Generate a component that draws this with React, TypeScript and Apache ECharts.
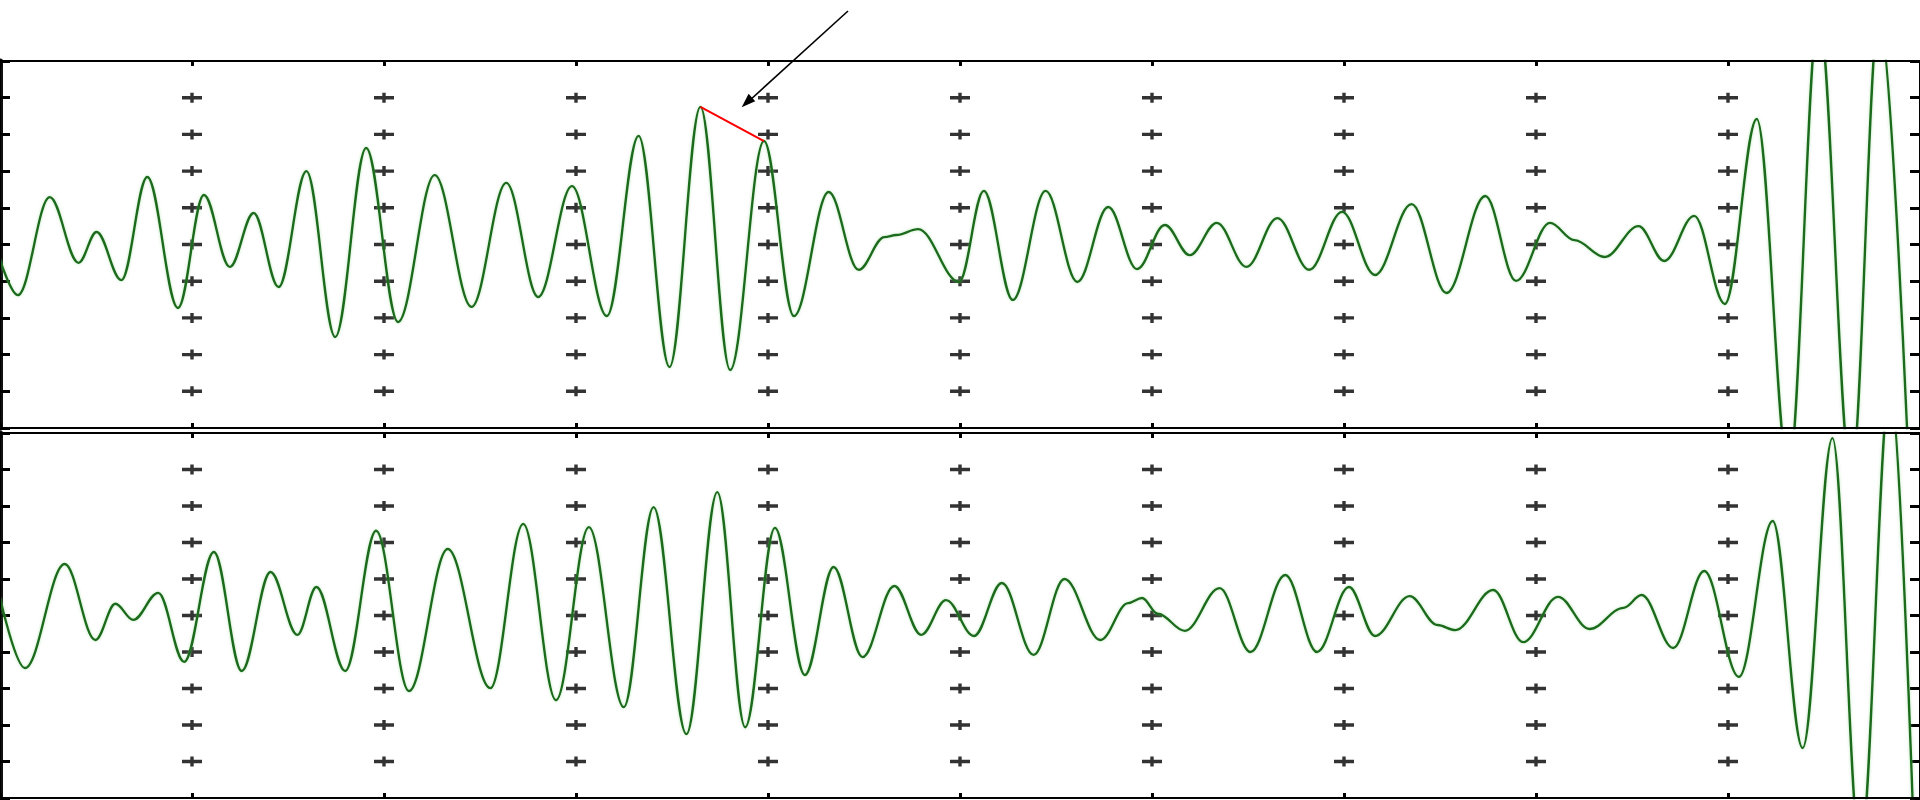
import React, { useEffect, useRef } from 'react';
import * as echarts from 'echarts';

// Upper trace: sample index and amplitude (grid units) at each turning point
const topTime = [
  0, 9.3, 25.9, 40.9, 50.3, 63.2, 76.7, 92.7, 106.2, 119.7, 132.1, 145.1, 159.6, 174.6, 190.7, 207.3,
  226.4, 245.6, 263.7, 280.3, 297.9, 316.1, 332.6, 348.7, 364.8, 380.3, 397.9, 413.5, 431.6, 447.2,
  460.6, 466.8, 478.2, 499.5, 512.4, 527.5, 544.6, 561.1, 577.2, 592.2, 606.7, 619.7, 633.7, 649.2,
  665.3, 681.9, 699.0, 716.1, 735.2, 753.4, 773.6, 789.6, 807.3, 820.0, 835.8, 853.4, 866.8, 882.4,
  898.4, 915.0, 931.6, 947.2, 964.2, 978.7, 994.3,
];
const topAmp = [
  -0.42, -1.38, 1.29, -0.5, 0.34, -0.97, 1.84, -1.73, 1.35, -0.61, 0.86, -1.16, 2.0, -2.52, 2.63, -2.11,
  1.89, -1.7, 1.68, -1.43, 1.59, -1.95, 2.96, -3.34, 3.75, -3.42, 2.82, -1.95, 1.43, -0.69,
  0.2, 0.26, 0.42, -1.02, 1.46, -1.51, 1.46, -1.02, 1.02, -0.67, 0.53, -0.29, 0.59, -0.61,
  0.72, -0.69, 0.89, -0.83, 1.1, -1.32, 1.32, -0.99, 0.59, 0.12, -0.34, 0.5, -0.45, 0.78,
  -1.62, 3.42, -6.15, 6.25, -6.28, 6.25, -6.28,
];

// Lower trace
const bottomTime = [
  0, 13.0, 33.7, 49.7, 60.1, 69.4, 82.4, 95.9, 111.4, 125.9, 140.9, 154.9, 164.8, 179.8, 195.9, 213.0,
  233.2, 255.4, 272.5, 289.6, 306.7, 324.9, 340.4, 357.5, 373.6, 388.1, 403.6, 419.2, 434.2, 449.2,
  465.8, 479.8, 492.7, 507.3, 521.8, 538.3, 554.4, 573.1, 587.6, 594.8, 603.0, 617.1, 635.2, 651.3,
  669.4, 686.0, 702.6, 716.1, 734.2, 748.7, 758.0, 777.7, 793.3, 811.4, 827.9, 845.6, 855.0, 871.5,
  887.6, 905.7, 923.3, 938.9, 954.4, 968.9, 984.5, 997.0,
];
const bottomAmp = [
  0.48, -1.44, 1.41, -0.67, 0.32, -0.12, 0.62, -1.27, 1.74, -1.52, 1.19, -0.53, 0.78, -1.52, 2.32, -2.07,
  1.82, -1.99, 2.51, -2.32, 2.42, -2.51, 2.97, -3.25, 3.38, -3.06, 2.4, -1.63, 1.33, -1.14,
  0.81, -0.53, 0.42, -0.56, 0.89, -1.08, 1.0, -0.67, 0.34, 0.48, 0.05, -0.42, 0.75, -1.0,
  1.11, -1.0, 0.78, -0.56, 0.53, -0.26, -0.4, 0.7, -0.73, 0.51, -0.37, 0.21, 0.56, -0.89,
  1.22, -1.68, 2.59, -3.63, 4.86, -6.4, 6.3, -6.4,
];

// Grid divisions
const gridTicksX = [0, 100, 200, 300, 400, 500, 600, 700, 800, 900, 1000];
const gridTicksY = [-5, -4, -3, -2, -1, 0, 1, 2, 3, 4, 5];

// Highlighted segment between two peaks of the upper trace
const markFrom = 24;
const markTo = 26;

const PLUS = 'path://M0,3.3H8.3V0H11.7V3.3H20V6.7H11.7V10H8.3V6.7H0Z';

export default function App() {
  const ref = useRef<HTMLDivElement>(null);

  useEffect(() => {
    if (!ref.current) return;
    const chart = echarts.init(ref.current, undefined, { renderer: 'svg' });

    const pairs = (xs: number[], ys: number[]) => xs.map((x, i) => [x, ys[i]]);
    // crosses at interior intersections; edge marks come from the inward axis ticks
    const crosses: number[][] = [];
    gridTicksX.slice(1, -1).forEach((gx) =>
      gridTicksY.slice(1, -1).forEach((gy) => crosses.push([gx, gy]))
    );

    const mkX = (g: number, position: 'top' | 'bottom') => ({
      gridIndex: g,
      type: 'value' as const,
      position,
      min: gridTicksX[0],
      max: gridTicksX[gridTicksX.length - 1],
      interval: 100,
      axisLine: { show: false, onZero: false },
      axisTick: { show: true, inside: true, length: 5, lineStyle: { color: '#000', width: 3 } },
      axisLabel: { show: false },
      splitLine: { show: false },
    });
    const mkY = (g: number, position: 'left' | 'right') => ({
      gridIndex: g,
      type: 'value' as const,
      position,
      min: gridTicksY[0],
      max: gridTicksY[gridTicksY.length - 1],
      interval: 1,
      axisLine: {
        show: position === 'left',
        onZero: false,
        lineStyle: { color: '#111', width: 5 },
      },
      axisTick: { show: true, inside: true, length: 10, lineStyle: { color: '#000', width: 3 } },
      axisLabel: { show: false },
      splitLine: { show: false },
    });

    const lineSeries = (xi: number, yi: number, data: number[][], extra: any = {}) => ({
      type: 'line',
      xAxisIndex: xi,
      yAxisIndex: yi,
      data,
      symbol: 'none',
      showSymbol: false,
      smooth: 0.36,
      smoothMonotone: 'x',
      clip: true,
      silent: true,
      z: 4,
      lineStyle: { color: '#1c6a1c', width: 2.4, shadowColor: 'rgba(120,210,120,0.5)', shadowBlur: 3 },
      ...extra,
    });

    const crossSeries = (xi: number, yi: number) => ({
      type: 'scatter',
      xAxisIndex: xi,
      yAxisIndex: yi,
      data: crosses,
      symbol: PLUS,
      symbolSize: [20, 10],
      itemStyle: { color: '#000' },
      clip: true,
      silent: true,
      z: 2,
    });

    chart.setOption({
      animation: false,
      backgroundColor: '#ffffff',
      grid: [
        { left: 0, top: 61, width: 1927, height: 367, show: true, borderColor: '#000', borderWidth: 2, z: 5 },
        { left: 0, top: 433, width: 1927, height: 365, show: true, borderColor: '#000', borderWidth: 2, z: 5 },
      ],
      xAxis: [mkX(0, 'bottom'), mkX(0, 'top'), mkX(1, 'bottom'), mkX(1, 'top')],
      yAxis: [mkY(0, 'left'), mkY(0, 'right'), mkY(1, 'left'), mkY(1, 'right')],
      series: [
        crossSeries(0, 0),
        crossSeries(2, 2),
        lineSeries(0, 0, pairs(topTime, topAmp), {
          markLine: {
            silent: true,
            symbol: ['none', 'none'],
            label: { show: false },
            lineStyle: { color: '#ff0000', width: 2, type: 'solid' },
            data: [
              [
                { coord: [topTime[markFrom], topAmp[markFrom]] },
                { coord: [topTime[markTo], topAmp[markTo]] },
              ],
            ],
          },
        }),
        lineSeries(2, 2, pairs(bottomTime, bottomAmp)),
      ],
      graphic: [
        {
          type: 'line',
          silent: true,
          z: 10,
          shape: { x1: 848, y1: 11, x2: 749, y2: 101 },
          style: { stroke: '#000', lineWidth: 1.6 },
        },
        {
          type: 'polygon',
          silent: true,
          z: 10,
          shape: { points: [[741.7, 107.3], [755.2, 101.2], [748.6, 93.8]] },
          style: { fill: '#000' },
        },
      ],
    });

    return () => chart.dispose();
  }, []);

  return (
    <div
      ref={ref}
      style={{ position: 'fixed', left: 0, top: 0, width: 1920, height: 800, background: '#fff' }}
    />
  );
}
